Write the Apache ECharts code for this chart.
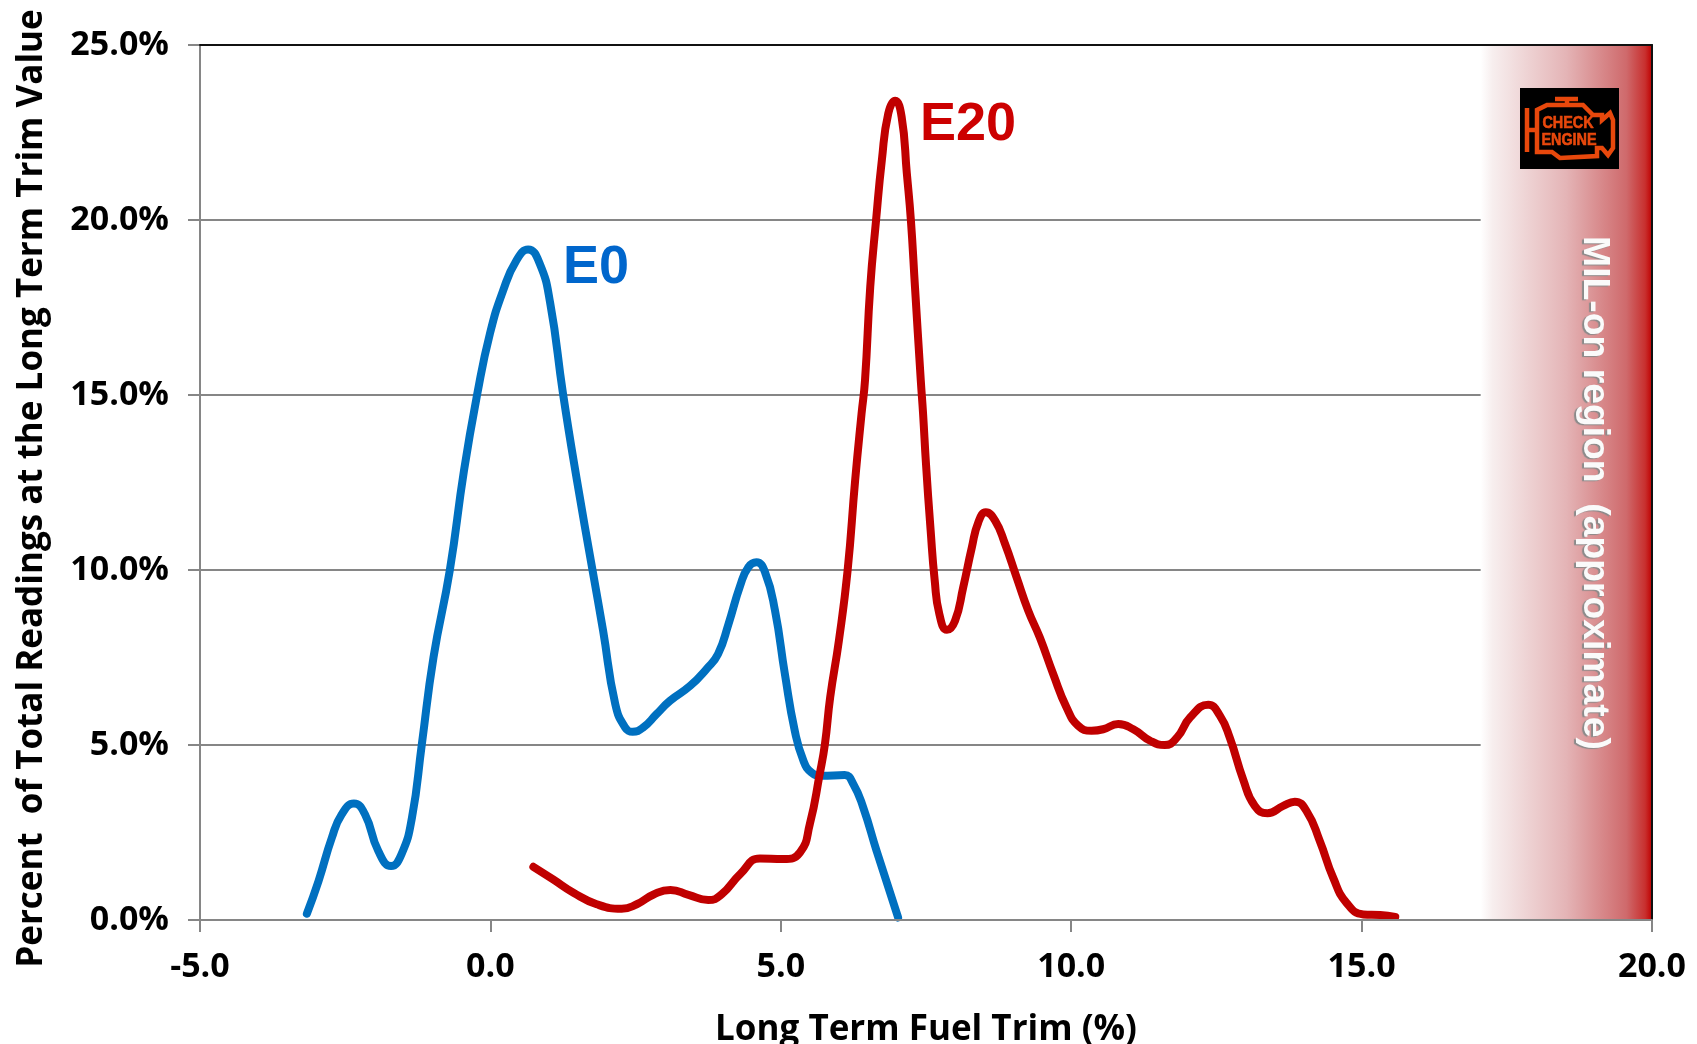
<!DOCTYPE html>
<html><head><meta charset="utf-8">
<style>html,body{margin:0;padding:0;background:#fff}#c{width:1697px;height:1044px}</style>
<script src="https://cdn.jsdelivr.net/npm/echarts@6/dist/echarts.min.js"></script>
</head><body><div id="c"></div>
<script>
const e0X=[-3.16,-2.96,-2.73,-2.56,-2.35,-2.16,-1.93,-1.71,-1.53,-1.35,-1.18,-0.98,-0.70,-0.455,-0.225,-0.007,0.22,0.45,0.65,0.85,1.03,1.25,1.49,1.76,1.94,2.15,2.32,2.45,2.63,2.86,3.09,3.44,3.72,3.92,4.1,4.3,4.44,4.58,4.73,4.9,5.07,5.24,5.39,5.53,5.7,6.1,6.25,6.42,6.65,7.02];
const e0Y=[0.18,1.11,2.35,3.02,3.33,3.02,1.97,1.54,1.88,2.93,5.03,7.5,9.98,12.84,15.04,16.76,17.99,18.85,19.16,18.75,17.62,15.04,12.56,9.98,8.27,6.17,5.5,5.38,5.5,5.88,6.26,6.69,7.17,7.6,8.46,9.55,10.08,10.22,9.93,8.84,7.03,5.41,4.55,4.21,4.12,4.14,3.88,3.21,1.97,0.07];
const e20X=[0.74,1.08,1.43,1.83,2.26,2.52,2.81,3.10,3.41,3.75,3.98,4.3,4.64,5.04,5.33,5.5,5.67,5.76,5.85,6.0,6.15,6.28,6.39,6.45,6.54,6.64,6.74,6.85,6.97,7.08,7.17,7.24,7.31,7.41,7.45,7.5,7.58,7.65,7.73,7.86,8.0,8.14,8.29,8.4,8.53,8.69,8.86,9.06,9.26,9.46,9.69,9.92,10.12,10.35,10.55,10.81,11.07,11.36,11.61,11.82,12.05,12.36,12.56,12.73,12.96,13.16,13.38,13.65,13.85,14.05,14.28,14.51,14.74,15.03,15.32,15.58];
const e20Y=[1.52,1.16,0.78,0.45,0.32,0.45,0.73,0.86,0.72,0.57,0.73,1.31,1.76,1.74,1.93,2.74,4.17,5.03,6.36,7.98,9.98,12.56,14.46,15.42,18.09,19.99,21.71,23.04,23.41,22.95,21.33,19.99,18.09,15.42,14.46,13.03,11.13,9.7,8.74,8.29,8.55,9.5,10.65,11.36,11.65,11.41,10.75,9.79,8.84,8.07,7.03,6.07,5.55,5.41,5.45,5.6,5.45,5.12,5.0,5.21,5.79,6.15,5.84,5.21,4.02,3.26,3.05,3.26,3.38,3.12,2.26,1.21,0.49,0.16,0.14,0.09];
const milStart=17.05, xMin=-5, xMax=20, xStep=5, yMin=0, yMax=25, yStep=5;
const seriesNames=['E0','E20'];
const xTitle='Long Term Fuel Trim (%)';
const yTitle='Percent  of Total Readings at the Long Term Trim Value';
const milText='MIL-on region  (approximate)';
const pairs=(a,b)=>a.map((v,i)=>[v,b[i]]);
const FONT='"Open Sans"';
const chart=echarts.init(document.getElementById('c'),null,{renderer:'canvas'});
const gray='#868686';
const orange='#E8480C';
chart.setOption({
 animation:false,backgroundColor:'#fff',
 grid:{left:200,right:45,top:45,bottom:124,containLabel:false,outerBoundsMode:'none'},
 xAxis:[{type:'value',min:xMin,max:xMax,interval:xStep,z:5,
   name:xTitle,nameLocation:'middle',nameGap:93,
   nameTextStyle:{fontFamily:FONT,fontWeight:'bold',fontSize:35,color:'#000'},
   axisLine:{show:true,onZero:false,lineStyle:{color:gray,width:2}},
   axisTick:{show:true,length:12,lineStyle:{color:gray,width:2}},
   axisLabel:{fontFamily:FONT,fontWeight:'bold',fontSize:34,color:'#000',margin:30,formatter:v=>v.toFixed(1),hideOverlap:false,showMinLabel:true,showMaxLabel:true},
   splitLine:{show:false}},
  {type:'value',position:'top',min:xMin,max:xMax,interval:xStep,z:5,
   axisLine:{show:true,onZero:false,lineStyle:{color:'#111',width:2}},axisTick:{show:false},axisLabel:{show:false},splitLine:{show:false}}],
 yAxis:[{type:'value',min:yMin,max:yMax,interval:yStep,
   name:yTitle,nameLocation:'middle',nameGap:150,nameRotate:90,
   nameTextStyle:{fontFamily:FONT,fontWeight:'bold',fontSize:35,color:'#000',padding:[0,12,0,0]},
   axisLine:{show:true,onZero:false,lineStyle:{color:gray,width:2}},
   axisTick:{show:true,length:12,lineStyle:{color:gray,width:2}},
   axisLabel:{fontFamily:FONT,fontWeight:'bold',fontSize:34,color:'#000',margin:31,padding:[3,0,0,0],formatter:v=>v.toFixed(1)+'%',showMinLabel:true,showMaxLabel:true},
   splitLine:{show:true,lineStyle:{color:gray,width:2}}},
  {type:'value',position:'right',min:yMin,max:yMax,interval:yStep,z:5,
   axisLine:{show:true,onZero:false,lineStyle:{color:'#111',width:2}},axisTick:{show:false},axisLabel:{show:false},splitLine:{show:false}}],
 series:[
  {name:seriesNames[0],type:'line',data:pairs(e0X,e0Y),smooth:0.5,showSymbol:false,symbol:'none',clip:false,z:3,
   lineStyle:{color:'#0070C0',width:8,cap:'round',join:'round'},
   markArea:{silent:true,z:1,itemStyle:{color:{type:'linear',x:0,y:0,x2:1,y2:0,colorStops:[
      {offset:0,color:'#ffffff'},{offset:0.07,color:'#f7eeee'},{offset:0.5,color:'#e4b4b6'},{offset:0.85,color:'#cf6a6c'},{offset:0.96,color:'#c8302f'},{offset:1,color:'#c00000'}]}},
     data:[[{xAxis:milStart,yAxis:yMin},{xAxis:xMax,yAxis:yMax}]]}},
  {name:seriesNames[1],type:'line',data:pairs(e20X,e20Y),smooth:0.5,showSymbol:false,symbol:'none',clip:false,z:4,
   lineStyle:{color:'#C00000',width:8,cap:'round',join:'round'}}
 ],
 graphic:[
  {type:'text',left:563,top:241,z:10,style:{text:seriesNames[0],fontFamily:'"Liberation Sans"',fontWeight:'bold',fontSize:54,fill:'#0066CC'}},
  {type:'text',left:920,top:98,z:10,style:{text:seriesNames[1],fontFamily:'"Liberation Sans"',fontWeight:'bold',fontSize:54,fill:'#CC0000'}},
  {type:'group',x:1520,y:88,z:10,children:[
    {type:'rect',shape:{x:0,y:0,width:99,height:81},style:{fill:'#000'},z:10},
    {type:'polyline',z:11,shape:{points:[[7,20],[7,64]]},style:{stroke:orange,lineWidth:4.5,fill:null}},
    {type:'polyline',z:11,shape:{points:[[7,42],[17,42],[17,22],[27,17],[35,17],[63,17],[73,27],[82,27],[82,32],[90,25],[93,32],[93,60],[88,67],[82,60],[77,60],[77,68],[40,70],[32,64],[17,64],[17,42]]},style:{stroke:orange,lineWidth:4.5,fill:null}},
    {type:'polyline',z:11,shape:{points:[[35,11],[58,11]]},style:{stroke:orange,lineWidth:4.5,fill:null}},
    {type:'polyline',z:11,shape:{points:[[47,11],[47,17]]},style:{stroke:orange,lineWidth:4.5,fill:null}},
    {type:'text',z:12,x:48,y:36,scaleX:0.9,style:{text:'CHECK',align:'center',verticalAlign:'middle',fontFamily:'"Liberation Sans"',fontWeight:'bold',fontSize:16,fill:orange,stroke:orange,lineWidth:0.6}},
    {type:'text',z:12,x:49,y:53,scaleX:0.9,style:{text:'ENGINE',align:'center',verticalAlign:'middle',fontFamily:'"Liberation Sans"',fontWeight:'bold',fontSize:16,fill:orange,stroke:orange,lineWidth:0.6}}
  ]},
  {type:'text',x:1594,y:493,rotation:-Math.PI/2,z:10,style:{text:milText,align:'center',verticalAlign:'middle',fontFamily:'"Liberation Sans"',fontWeight:'bold',fontSize:37.3,fill:'#fafafa',textShadowColor:'#8a8a8a',textShadowOffsetX:-2,textShadowOffsetY:1,textShadowBlur:1}}
 ]
});
</script></body></html>
